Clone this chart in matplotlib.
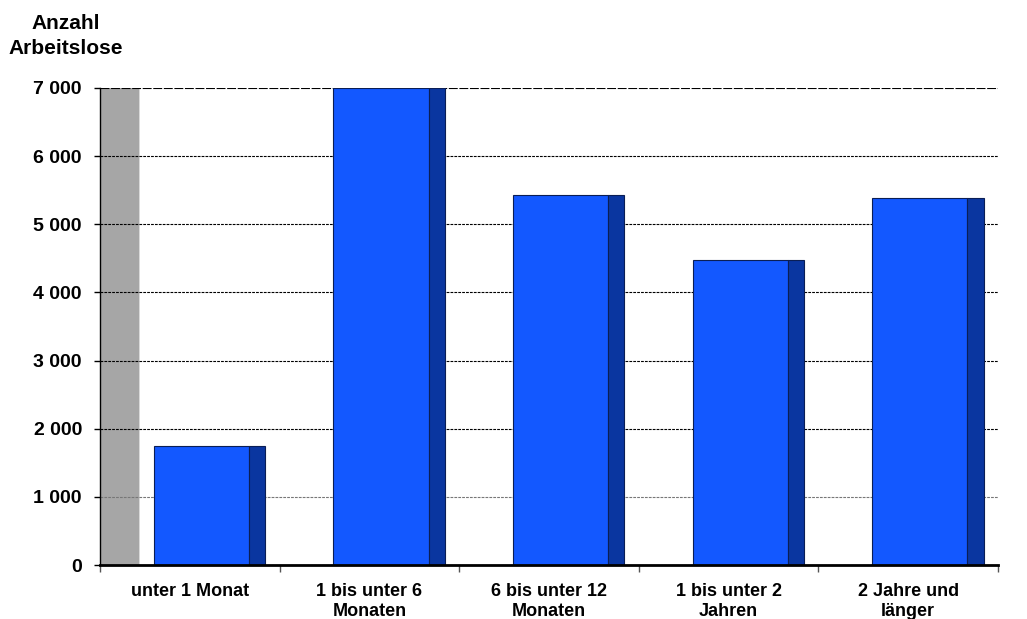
import matplotlib.pyplot as plt
import numpy as np

categories = ["unter 1 Monat", "1 bis unter 6\nMonaten", "6 bis unter 12\nMonaten",
              "1 bis unter 2\nJahren", "2 Jahre und\nlänger"]
values = [1745, 7000, 5430, 4475, 5390]
y_ticks = [0, 1000, 2000, 3000, 4000, 5000, 6000, 7000]
y_tick_labels = ["0", "1 000", "2 000", "3 000", "4 000", "5 000", "6 000", "7 000"]

plt.rcParams['font.family'] = ['Liberation Sans', 'DejaVu Sans']
plt.rcParams['font.weight'] = 'bold'

dpi = 100
fig = plt.figure(figsize=(1027 / dpi, 619 / dpi), dpi=dpi)
ax = fig.add_axes([100 / 1027, 1 - 565 / 619, 898 / 1027, 477 / 619])

x = np.arange(len(categories))
front_w = 0.53
side_w = 0.09

# grey back wall (3D look)
ax.axvspan(-0.5, -0.5 + 0.215, color='#a6a6a6', zorder=0.3, lw=0)
ax.axvspan(-0.5 + 0.215, -0.5 + 0.225, color='#d9d9d9', zorder=0.3, lw=0)

# bar fronts and sides
ax.bar(x - 0.2, values, width=front_w, align='edge', color='#1358ff',
       edgecolor='#0a1e55', linewidth=0.8, zorder=2)
ax.bar(x + 0.33, values, width=side_w, align='edge', color='#0a36a0',
       edgecolor='#0a1e55', linewidth=0.8, zorder=2)

ax.set_xlim(-0.5, len(categories) - 0.5)
ax.set_ylim(0, 7000)

ax.set_yticks(y_ticks)
ax.set_yticklabels(y_tick_labels, fontsize=14, fontweight='bold')
ax.tick_params(axis='y', length=4, width=1, pad=9)

ax.set_xticks(x)
ax.set_xticklabels(categories, fontsize=13, fontweight='bold', linespacing=1.25)
ax.set_xticks(np.arange(len(categories) + 1) - 0.5, minor=True)
ax.tick_params(axis='x', which='major', length=0, pad=13)
ax.tick_params(axis='x', which='minor', length=5, width=1, color='#555555')

ax.set_axisbelow(True)
ax.yaxis.grid(True, color='black', linewidth=0.8, linestyle=(0, (2.5, 1)))
gl = ax.get_ygridlines()
gl[-1].set_linestyle((0, (8, 1.5)))
gl[1].set_color('#777777')

for s in ['top', 'right']:
    ax.spines[s].set_visible(False)
ax.spines['left'].set_linewidth(1)
ax.spines['bottom'].set_linewidth(2)

fig.text(66 / 1027, 1 - 14 / 619, "Anzahl\nArbeitslose", ha='center', va='top',
         fontsize=15, fontweight='bold', linespacing=1.4)

plt.savefig('out.png', dpi=dpi)
plt.close()
